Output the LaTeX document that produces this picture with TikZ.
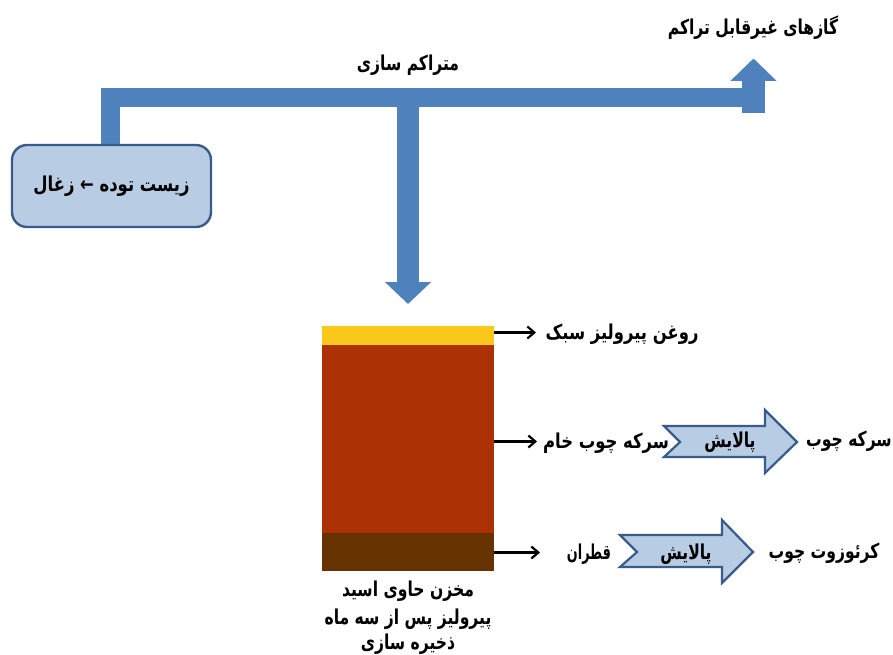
\documentclass[tikz,border=0pt]{standalone}
\usepackage{fontspec}
\usetikzlibrary{arrows.meta}
\TeXXeTstate=1
\newfontfamily\arabicfont[Script=Arabic,BoldFont={DejaVu Sans Bold},FakeStretch=0.76]{DejaVu Sans}
\newfontfamily\arabicwide[Script=Arabic,BoldFont={DejaVu Sans Bold},FakeStretch=0.80]{DejaVu Sans}
\definecolor{pipeblue}{HTML}{4F81BD}
\definecolor{paleblue}{HTML}{B8CCE4}
\definecolor{edgeblue}{HTML}{385D8A}
\definecolor{oilyellow}{HTML}{F9C81A}
\definecolor{acidred}{HTML}{AC3206}
\definecolor{tarbrown}{HTML}{663300}
\newcommand{\fa}[1]{{\fontsize{20.5}{22}\arabicfont\bfseries\selectfont\beginR #1\endR}}
\newcommand{\fb}[1]{{\fontsize{20.5}{22}\arabicwide\bfseries\selectfont\beginR #1\endR}}
\tikzset{
  x=1pt,y=-1pt,
  lbl/.style={inner sep=0pt,outer sep=0pt,text=black},
  pipe/.style={draw=pipeblue,line width=19pt},
  layer/.style={inner sep=0pt,outer sep=0pt,minimum width=172pt},
  tap/.style={draw=black,line width=2.2pt,-{Straight Barb[length=7pt,width=12pt,line width=2.2pt]}},
  refine/.style={fill=paleblue,draw=edgeblue,line width=2.2pt,line join=miter},
  box/.style={draw=edgeblue,fill=paleblue,line width=2.4pt,rounded corners=15pt,minimum width=199pt,minimum height=82pt,inner sep=0pt},
}
\begin{document}
\begin{tikzpicture}
\useasboundingbox (0,0) rectangle (893,655);
\fill[white] (0,0) rectangle (893,655);
% pipes
\coordinate (corner) at (110.5,98);
\coordinate (junction) at (408,98);
\coordinate (rise) at (753.5,98);
\coordinate (risebase) at (753.5,113);
\coordinate (gastip) at (753.5,58.5);
\coordinate (droptip) at (408,304);
\coordinate (biomasstop) at (110.5,150);
\draw[pipe,line cap=butt] (biomasstop) -- (corner) -- (rise);
\draw[draw=pipeblue,line width=23pt,-{Triangle[length=22.5pt,width=45pt]}] (risebase) -- (gastip);
\draw[draw=pipeblue,line width=22pt,-{Triangle[length=22pt,width=45pt]}] (junction) -- (droptip);
\node[box] (biomass) at (111.5,186) {\fb{زیست توده ← زغال}};
% tank
\node[layer,fill=oilyellow,minimum height=19pt] (oil) at (408,335.5) {};
\node[layer,fill=acidred,minimum height=188pt] (acid) at (408,439) {};
\node[layer,fill=tarbrown,minimum height=38pt] (tar) at (408,552) {};
% labels
\node[lbl] (gases) at (753,28) {\fa{گازهای غیرقابل تراکم}};
\node[lbl] (cond) at (408,65) {\fa{متراکم سازی}};
\node[lbl] (lightoil) at (622,334) {\fb{روغن پیرولیز سبک}};
\node[lbl] (rawvin) at (606,443) {\fb{سرکه چوب خام}};
\node[lbl] (tarlbl) at (589,554) {\scalebox{0.82}[1]{\fa{قطران}}};
\node[lbl] (vinegar) at (849,441) {\fa{سرکه چوب}};
\node[lbl] (creosote) at (824,553) {\fa{کرئوزوت چوب}};
\node[lbl] (cap1) at (408,591) {\fa{مخزن حاوی اسید}};
\node[lbl] (cap2) at (408,619) {\fa{پیرولیز پس از سه ماه}};
\node[lbl] (cap3) at (408,644) {\fa{ذخیره سازی}};
% taps
\coordinate (tap1) at (536,332.5);
\coordinate (tap2) at (537,441.5);
\coordinate (tap3) at (540,552.5);
\draw[tap] (oil.east |- tap1) -- (tap1);
\draw[tap] (acid.east |- tap2) -- (tap2);
\draw[tap] (tar.east |- tap3) -- (tap3);
% refine arrows
\draw[refine] (664,426) -- (765,426) -- (765,410) -- (797,442) -- (765,473) -- (765,457) -- (664,457) -- (680,442) -- cycle;
\node[lbl] (ref1) at (730,442) {\fa{پالایش}};
\draw[refine] (620,535) -- (722,535) -- (722,520) -- (753,552) -- (722,583) -- (722,567) -- (620,567) -- (637,552) -- cycle;
\node[lbl] (ref2) at (686,554) {\fa{پالایش}};
\end{tikzpicture}
\end{document}
